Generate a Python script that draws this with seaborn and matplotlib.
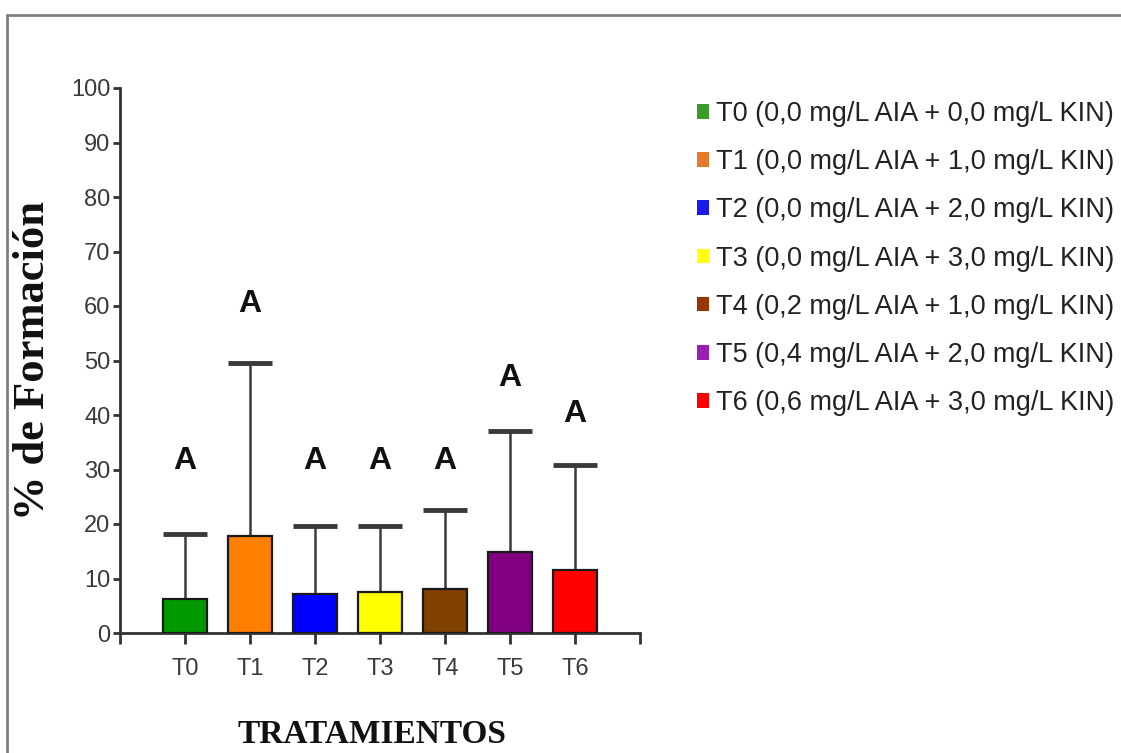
import matplotlib
matplotlib.use("Agg")
import matplotlib.pyplot as plt
from matplotlib.patches import Patch
from matplotlib.lines import Line2D
import seaborn as sns
import numpy as np

# ---- data ----
categories = ["T0", "T1", "T2", "T3", "T4", "T5", "T6"]
means = [6.2, 17.8, 7.2, 7.6, 8.1, 14.8, 11.5]
sd = [12.0, 31.8, 12.5, 12.1, 14.4, 22.2, 19.3]
letters = ["A", "A", "A", "A", "A", "A", "A"]
letter_y = [31.6, 60.4, 31.6, 31.6, 31.6, 46.8, 40.2]
legend_labels = [
    "T0 (0,0 mg/L AIA + 0,0 mg/L KIN)",
    "T1 (0,0 mg/L AIA + 1,0 mg/L KIN)",
    "T2 (0,0 mg/L AIA + 2,0 mg/L KIN)",
    "T3 (0,0 mg/L AIA + 3,0 mg/L KIN)",
    "T4 (0,2 mg/L AIA + 1,0 mg/L KIN)",
    "T5 (0,4 mg/L AIA + 2,0 mg/L KIN)",
    "T6 (0,6 mg/L AIA + 3,0 mg/L KIN)",
]
yticks = [0, 10, 20, 30, 40, 50, 60, 70, 80, 90, 100]

bar_colors = ["#009900", "#ff8000", "#0000ff", "#ffff00", "#804000", "#800080", "#ff0000"]
legend_colors = ["#3a9a2a", "#e8782a", "#1a1aee", "#ffff10", "#993300", "#9b1fb5", "#ff0000"]

sns.set_style("ticks")
plt.rcParams["font.family"] = ["Liberation Sans", "DejaVu Sans"]

fig = plt.figure(figsize=(11.21, 7.53), dpi=100)
ax = fig.add_axes([120 / 1121, 120 / 753, 520 / 1121, 545 / 753])

sns.barplot(x=categories, y=means, hue=categories, palette=bar_colors,
            saturation=1, width=0.68, edgecolor="#1a1a1a", linewidth=1.6,
            legend=False, ax=ax, zorder=3)

xpos = np.arange(len(categories))
eb = ax.errorbar(xpos, means, yerr=[np.zeros(len(sd)), sd], fmt="none",
                 ecolor="#3a3a3a", elinewidth=1.8, capsize=16, capthick=3.5,
                 zorder=2)
eb[1][0].set_visible(False)

for xi, lab, ly in zip(xpos, letters, letter_y):
    ax.text(xi, ly, lab, ha="center", va="center", fontsize=23,
            fontweight="bold", color="#111111")

ax.set_xlim(-1, 7)
ax.set_ylim(0, 100)
ax.set_yticks(yticks)
ax.set_yticklabels([str(v) for v in yticks])
ax.set_xticks([-1] + list(xpos) + [7])
ax.set_xticklabels([""] + categories + [""])

for side in ["top", "right"]:
    ax.spines[side].set_visible(False)
for side in ["left", "bottom"]:
    ax.spines[side].set_linewidth(2)
    ax.spines[side].set_color("#333333")

ax.tick_params(axis="y", length=5, width=2, color="#333333", pad=2,
               labelsize=17, labelcolor="#3a3a3a")
ax.tick_params(axis="x", length=8, width=2, color="#333333", pad=10,
               labelsize=17, labelcolor="#3a3a3a")

ax.set_ylabel("% de Formación", fontsize=32, fontweight="bold",
              family=["Liberation Serif", "DejaVu Serif"], color="#111111")
ax.yaxis.set_label_coords(-0.128, 0.5)
ax.set_xlabel("TRATAMIENTOS", fontsize=24, fontweight="bold",
              family=["Liberation Serif", "DejaVu Serif"], color="#111111")
ax.xaxis.set_label_coords(0.485, -0.158)

handles = [Patch(facecolor=c, edgecolor="none") for c in legend_colors]
fig.legend(handles, legend_labels, loc="upper left",
           bbox_to_anchor=(697 / 1121, 1 - 101 / 753), frameon=False,
           fontsize=19.5, handlelength=0.45, handleheight=0.45,
           handletextpad=0.25, labelspacing=0.82, borderpad=0,
           borderaxespad=0, labelcolor="#222222")

# outer frame lines (top and left)
fig.add_artist(Line2D([7 / 1121, 1.0], [1 - 15 / 753, 1 - 15 / 753],
                      transform=fig.transFigure, color="#808080", linewidth=2))
fig.add_artist(Line2D([7 / 1121, 7 / 1121], [0, 1 - 15 / 753],
                      transform=fig.transFigure, color="#808080", linewidth=2))

fig.savefig("out.png", dpi=100)
